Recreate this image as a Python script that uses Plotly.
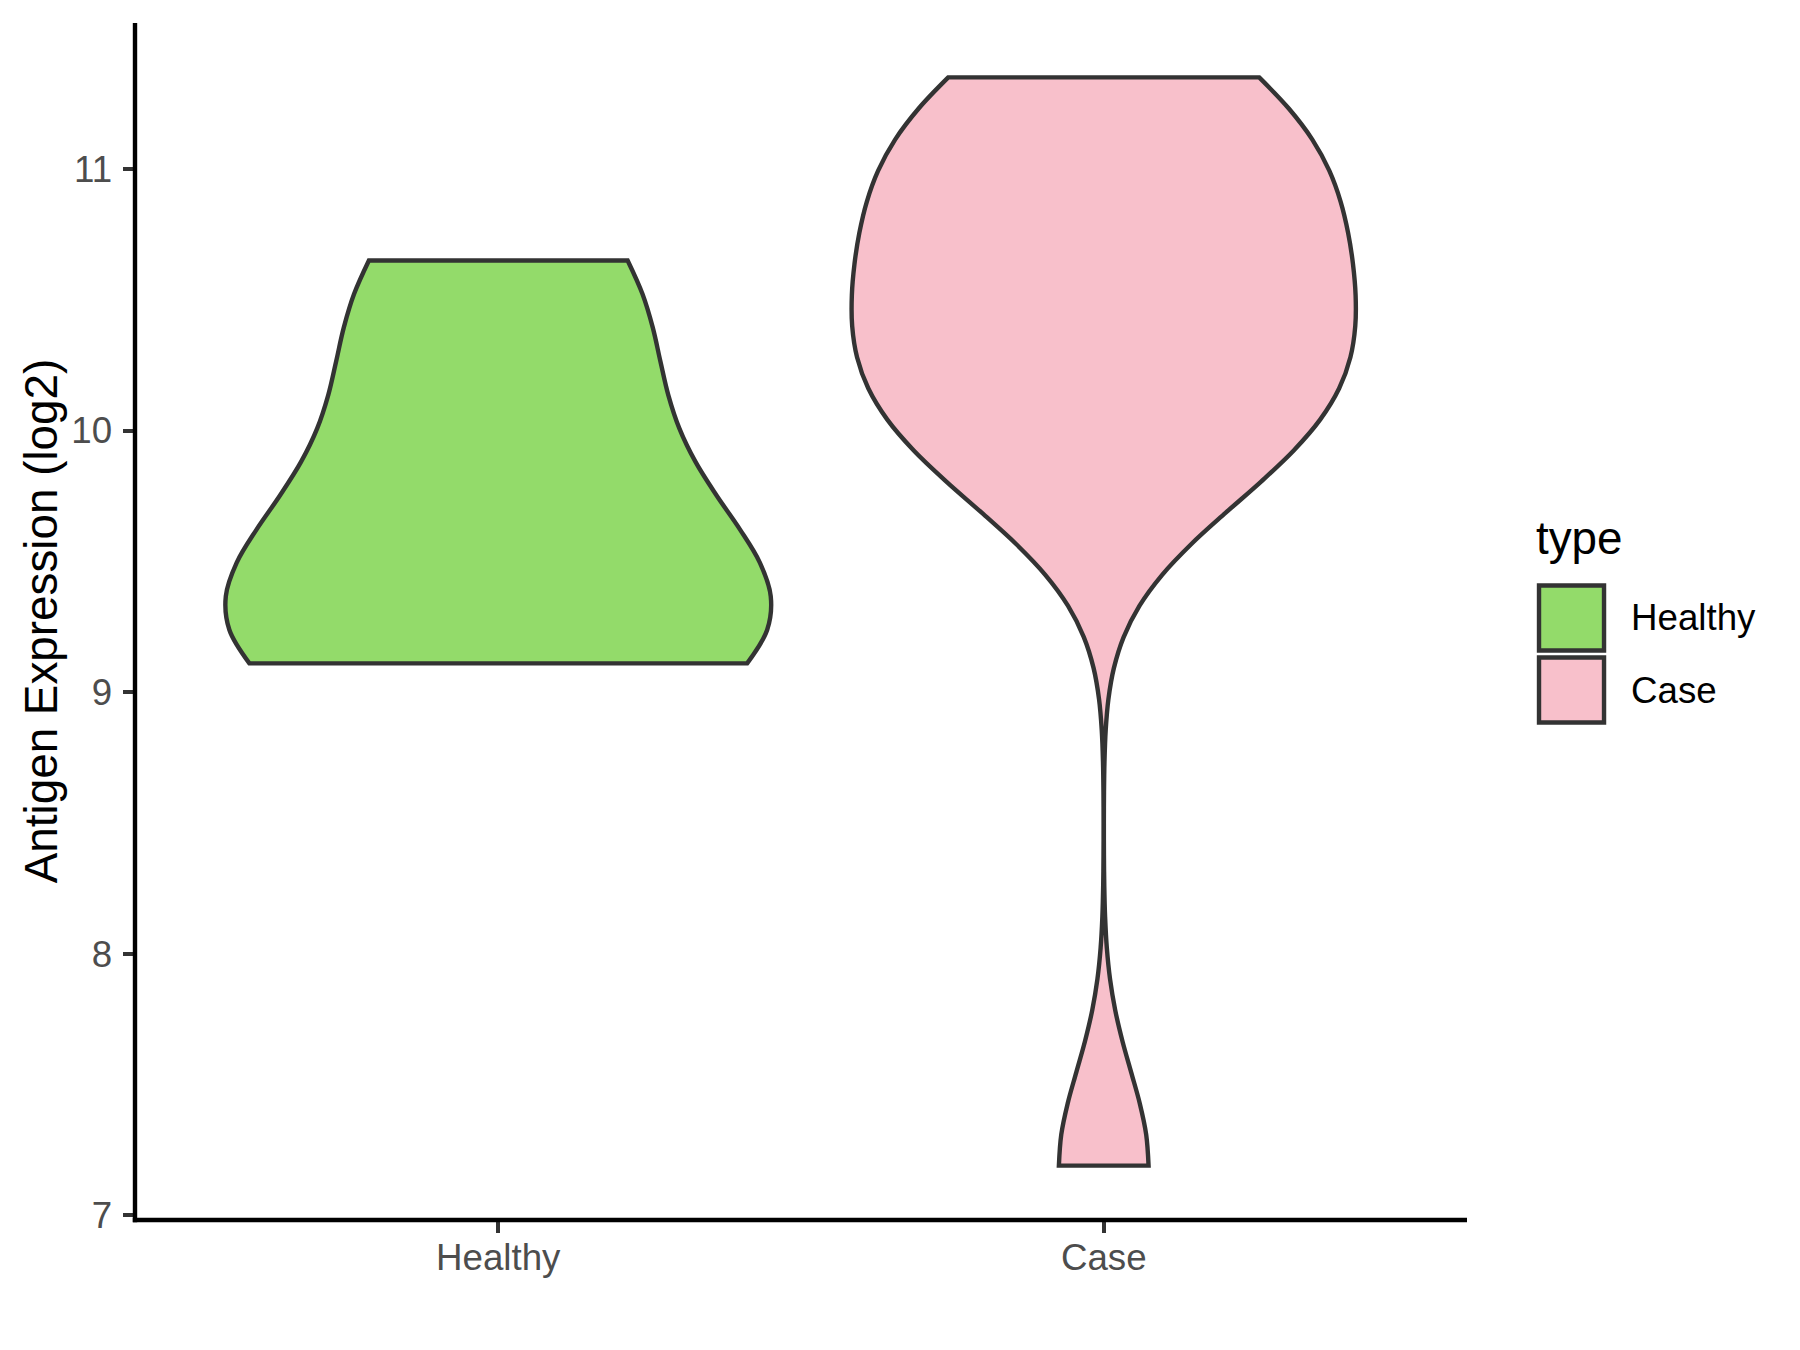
import plotly.graph_objects as go

# ---- data ----
categories = ["Healthy", "Case"]
healthy_values = [9.11, 9.12, 9.2, 9.3, 9.45, 9.78, 10.12, 10.55, 10.65]
case_values = [7.19, 9.8, 9.96, 10.1, 10.25, 10.4, 10.56, 10.72, 10.88, 11.08, 11.22, 11.35]
y_ticks = [7, 8, 9, 10, 11]
legend_title = "type"
y_title = "Antigen Expression (log2)"

# ---- style ----
W, H = 1800, 1350
L, R, T, B = 135.3, 1467.0, 23.3, 1219.7
PW, PH = R - L, B - T
FONT = "Liberation Sans, Arial, sans-serif"
LW = 4.4
fills = {"Healthy": "#93DB6A", "Case": "#F8C0CB"}
bws = {"Healthy": 0.42, "Case": 0.36}
widths = {"Healthy": 0.9, "Case": 0.832}
series = {"Healthy": healthy_values, "Case": case_values}


def px_x(px):
    return (px - L) / PW


def px_y(py):
    return (B - py) / PH


fig = go.Figure()
for cat in categories:
    vals = series[cat]
    fig.add_trace(go.Violin(
        x=[cat] * len(vals), y=vals, name=cat,
        fillcolor=fills[cat], line=dict(color="#333333", width=LW),
        points=False, box_visible=False, meanline_visible=False,
        spanmode="hard", bandwidth=bws[cat], width=widths[cat],
        scalemode="width", scalegroup=cat, showlegend=False,
        hoverinfo="skip", opacity=1,
    ))

fig.update_layout(
    width=W, height=H,
    margin=dict(l=L, r=W - R, t=T, b=H - B, pad=0, autoexpand=False),
    paper_bgcolor="white", plot_bgcolor="white",
    violinmode="overlay",
    showlegend=False,
    font=dict(family=FONT, color="#4D4D4D"),
)
fig.update_xaxes(
    type="category", categoryorder="array", categoryarray=categories,
    range=[-0.6, 1.6], showgrid=False, zeroline=False, showline=False,
    ticks="outside", ticklen=11.5, tickwidth=LW, tickcolor="#333333",
    ticklabelstandoff=-7,
    tickfont=dict(size=36.7, color="#4D4D4D", family=FONT),
)
fig.update_yaxes(
    range=[6.982, 11.558], tickvals=y_ticks, ticktext=[str(v) for v in y_ticks],
    showgrid=False, zeroline=False, showline=False,
    ticks="outside", ticklen=11.5, tickwidth=LW, tickcolor="#333333",
    ticklabelstandoff=3,
    tickfont=dict(size=36.7, color="#4D4D4D", family=FONT),
)

# axis lines (ggplot theme_classic style)
ext = LW / 2 / PH
fig.add_shape(type="line", xref="paper", yref="paper", x0=0, x1=0, y0=-ext, y1=1,
              line=dict(color="black", width=LW), layer="above")
fig.add_shape(type="line", xref="paper", yref="paper", x0=-LW / 2 / PW, x1=1, y0=0, y1=0,
              line=dict(color="black", width=LW), layer="above")

# y-axis title
fig.add_annotation(
    text=y_title, textangle=-90, xref="paper", yref="paper",
    x=px_x(42), y=0.5, xanchor="center", yanchor="middle", showarrow=False,
    font=dict(size=45.8, color="black", family=FONT),
)

# legend (drawn manually to match ggplot key size)
fig.add_annotation(
    text=legend_title, xref="paper", yref="paper",
    x=px_x(1534), y=px_y(539), xanchor="left", yanchor="middle", showarrow=False,
    font=dict(size=45.8, color="black", family=FONT),
)
key_tops = [585.5, 657.5]
for cat, top in zip(categories, key_tops):
    fig.add_shape(
        type="rect", xref="paper", yref="paper",
        x0=px_x(1539), x1=px_x(1604), y0=px_y(top), y1=px_y(top + 65),
        fillcolor=fills[cat], line=dict(color="#333333", width=LW), layer="above",
    )
    fig.add_annotation(
        text=cat, xref="paper", yref="paper",
        x=px_x(1629), y=px_y(top + 32.5), xanchor="left", yanchor="middle", showarrow=False,
        font=dict(size=36.7, color="black", family=FONT),
    )

fig.write_html("out.html", config={"displayModeBar": False},
               post_script="document.body.style.margin='0';")
